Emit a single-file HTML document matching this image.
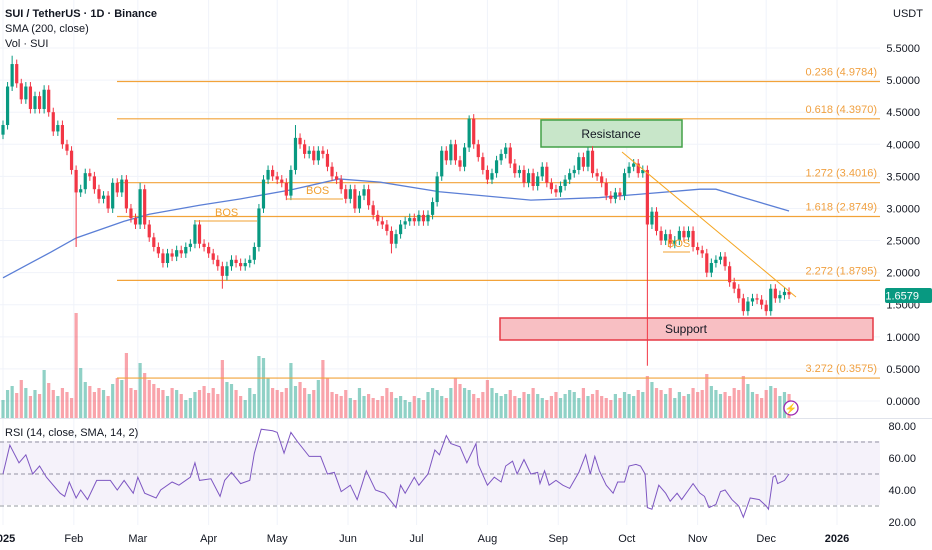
<!DOCTYPE html>
<html><head><meta charset="utf-8"><style>
body{margin:0;background:#fff;}
svg{display:block;font-family:"Liberation Sans",sans-serif;}
</style></head><body>
<svg id="c" width="932" height="550" xmlns="http://www.w3.org/2000/svg">
<rect width="932" height="550" fill="#fff"/>
<g id="grid"></g>
<rect x="0" y="441" width="880" height="64" fill="#7e57c2" fill-opacity="0.08"/>
<g id="vol"></g>
<g id="fib"></g>
<rect x="541" y="120" width="141" height="27" fill="#c8e6c9" stroke="#43a047" stroke-width="1.5"/>
<text x="611" y="138" font-size="12" text-anchor="middle" fill="#131722">Resistance</text>
<rect x="500" y="318" width="373" height="22" fill="#f8bfc3" stroke="#e53945" stroke-width="1.5"/>
<text x="686" y="333" font-size="12" text-anchor="middle" fill="#131722">Support</text>
<g id="sma"></g>
<g id="candles"></g>
<line x1="622" y1="152" x2="796" y2="297" stroke="#f5a623" stroke-width="1"/>
<g fill="#f0a030" font-size="11">
<line x1="195" y1="221" x2="257" y2="221" stroke="#f0a030"/>
<text x="215" y="216">BOS</text>
<line x1="287" y1="199" x2="343" y2="199" stroke="#f0a030"/>
<text x="306" y="194">BOS</text>
<line x1="663" y1="252" x2="690" y2="252" stroke="#f0a030"/>
<text x="667" y="247">BOS</text>
</g>
<line x1="0" y1="418.5" x2="932" y2="418.5" stroke="#e0e3eb"/>
<g id="rsi"></g>
<g id="axes"></g>
<text x="5" y="17" font-size="11" font-weight="bold" fill="#131722">SUI / TetherUS · 1D · Binance</text>
<text x="5" y="32" font-size="11" fill="#131722">SMA (200, close)</text>
<text x="5" y="47" font-size="11" fill="#131722">Vol · SUI</text>
<text x="5" y="436" font-size="11" fill="#131722">RSI (14, close, SMA, 14, 2)</text>
<text x="893" y="17" font-size="11" fill="#131722">USDT</text>
<rect x="885" y="288" width="47" height="15" rx="2" fill="#089981"/>
<text x="919" y="299.5" font-size="11" text-anchor="end" fill="#fff">1.6579</text>
<circle cx="791" cy="408" r="7" fill="#fff" stroke="#9c27b0" stroke-width="1.3"/>
<text x="791" y="412" font-size="10" text-anchor="middle" fill="#9c27b0">⚡</text>
</svg>
<script>
const closes=[4.30,4.90,5.25,4.95,4.70,4.90,4.55,4.75,4.55,4.85,4.50,4.20,4.30,4.00,3.90,3.60,3.25,3.30,3.55,3.50,3.30,3.15,3.20,3.00,3.40,3.25,3.45,3.00,2.85,2.75,3.30,2.75,2.55,2.40,2.30,2.15,2.30,2.25,2.35,2.30,2.40,2.45,2.75,2.45,2.40,2.30,2.20,2.10,1.95,2.10,2.20,2.15,2.10,2.15,2.20,2.40,3.00,3.45,3.60,3.50,3.45,3.40,3.20,3.60,4.10,4.00,3.85,3.90,3.75,3.90,3.85,3.65,3.50,3.45,3.30,3.15,3.30,3.00,3.20,3.30,3.05,2.90,2.80,2.75,2.65,2.45,2.60,2.75,2.80,2.85,2.80,2.90,2.80,2.90,3.10,3.50,3.90,3.75,4.00,3.75,3.65,3.95,4.40,4.00,3.80,3.60,3.45,3.55,3.75,3.85,3.95,3.70,3.55,3.60,3.40,3.55,3.35,3.50,3.65,3.40,3.30,3.25,3.35,3.45,3.55,3.60,3.80,3.65,3.90,3.55,3.50,3.40,3.20,3.15,3.25,3.20,3.55,3.65,3.70,3.55,3.60,2.75,2.95,2.65,2.50,2.60,2.45,2.50,2.65,2.55,2.65,2.40,2.35,2.30,2.00,2.15,2.20,2.25,2.10,1.85,1.75,1.60,1.40,1.55,1.60,1.58,1.50,1.40,1.75,1.60,1.65,1.70,1.6579];
const wickLow={16:2.40,48:1.75,85:2.30,141:0.55,162:1.33,167:1.33};
const wickHigh={2:5.38,30:3.40,64:4.30,102:4.45,128:3.95};
const volumes=[18,28,32,25,38,30,22,28,24,48,35,28,22,30,26,20,105,50,36,32,26,30,28,22,34,40,38,65,30,28,55,45,38,34,30,28,22,30,28,24,18,20,26,28,32,25,30,24,58,36,34,28,22,18,30,24,62,60,40,30,28,26,30,55,32,36,30,24,28,38,58,40,26,24,22,28,20,18,30,22,24,20,18,22,30,26,20,22,18,16,22,20,18,26,30,28,22,20,30,40,34,30,28,24,20,26,38,30,25,22,24,28,22,20,26,24,30,24,20,18,22,26,20,24,28,26,20,30,22,24,28,22,20,18,24,20,26,24,22,28,26,42,36,30,28,24,30,20,26,22,24,30,26,28,44,32,28,24,26,22,30,28,42,34,26,24,20,28,32,30,22,26,24];
const smaDays=[0,12,21,32,53,64,86,104,126,147,165,191,231,261,305,312,323,344];
const smaVals=[1.92,2.15,2.32,2.54,2.80,2.91,3.05,3.15,3.29,3.46,3.41,3.26,3.13,3.17,3.30,3.30,3.18,2.96];
const rsiDays=[0,3,7,10,13,16,19,25,27,29,32,34,37,41,47,50,53,57,59,62,67,69,74,77,82,84,86,91,95,97,100,104,108,110,113,118,120,123,126,129,134,139,142,145,148,152,155,159,163,167,172,174,176,180,182,186,189,191,194,196,200,203,207,208,212,215,218,220,223,225,228,231,234,235,237,239,242,245,248,250,252,255,257,259,261,264,267,269,272,274,277,279,281,282,284,287,290,292,295,297,300,302,305,307,309,312,314,316,319,322,324,327,331,334,335,337,338,339,342,344];
const rsiVals=[50,68,57,62,50,55,48,38,36,45,35,40,34,46,46,40,46,38,48,38,35,40,45,43,48,57,46,47,36,46,51,44,46,63,78,77,76,63,76,70,61,61,50,51,39,43,34,52,40,38,29,43,38,48,43,50,65,62,74,69,67,57,69,56,43,48,45,55,58,50,59,50,51,44,52,43,46,43,41,46,51,62,50,61,52,43,38,45,45,55,56,55,50,29,28,43,38,33,38,34,40,44,38,36,29,31,39,40,34,30,23,35,34,30,28,48,49,44,46,50];
const priceTicks=[5.5,5.0,4.5,4.0,3.5,3.0,2.5,2.0,1.5,1.0,0.5,0.0];
const rsiTicks=[80,60,40,20];
const monthLabels=["2025","Feb","Mar","Apr","May","Jun","Jul","Aug","Sep","Oct","Nov","Dec","2026"];
const monthDays=[0,31,59,90,120,151,181,212,243,273,304,334,365];
const fibLabels=["0.236 (4.9784)","0.618 (4.3970)","1.272 (3.4016)","1.618 (2.8749)","2.272 (1.8795)","3.272 (0.3575)"];
const fibPrices=[4.9784,4.3970,3.4016,2.8749,1.8795,0.3575];

const NS="http://www.w3.org/2000/svg";
const xOf=d=>3+d*2.285;
const yP=p=>401-p*64.18;
const yR=v=>426+(80-v)*1.6;
const yV=v=>418-v;
function mk(tag,attrs,parent){const e=document.createElementNS(NS,tag);for(const k in attrs)e.setAttribute(k,attrs[k]);parent.appendChild(e);return e;}
const G=id=>document.getElementById(id);

// grid
const grid=G('grid');
priceTicks.forEach(p=>{const l=mk('line',{x1:0,x2:880,y1:yP(p),y2:yP(p),stroke:'#f0f3fa'},grid);

});
monthDays.forEach(d=>{const l=mk('line',{x1:xOf(d),x2:xOf(d),y1:0,y2:525,stroke:'#f0f3fa'},grid);

});
[70,50,30].forEach(v=>{const l=mk('line',{x1:0,x2:880,y1:yR(v),y2:yR(v),stroke:'#9598a1','stroke-dasharray':'4,3'},grid);

});

// volume & candles
const vg=G('vol'),cg=G('candles');
closes.forEach((c,i)=>{
 const o=i===0?4.15:closes[i-1];
 const up=c>=o;
 const x=xOf(i*2);
 const hi=wickHigh[i]!==undefined?wickHigh[i]:Math.max(o,c)+0.07;
 const lo=wickLow[i]!==undefined?wickLow[i]:Math.min(o,c)-0.07;
 const col=up?'#089981':'#f23645';
 const w=mk('line',{x1:x,x2:x,y1:yP(hi),y2:yP(lo),stroke:col,'stroke-width':1},cg);
 
 
 const top=yP(Math.max(o,c)),bot=yP(Math.min(o,c));
 const b=mk('rect',{x:x-1.6,y:top,width:3.2,height:Math.max(1,bot-top),fill:col},cg);
 
 
 const v=volumes[i];
 const vb=mk('rect',{x:x-1.6,y:yV(v),width:3.2,height:v,fill:up?'#089981':'#f23645','fill-opacity':0.45},vg);
 
 
});

// fib
const fg=G('fib');
fibPrices.forEach((p,i)=>{
 const l=mk('line',{x1:117,x2:880,y1:yP(p),y2:yP(p),stroke:'#f2a33a','stroke-width':1.2},fg);
 
 
 const t=mk('text',{x:877,y:yP(p)-6,'font-size':11,'text-anchor':'end',fill:'#f0a040'},fg);
 t.textContent=fibLabels[i];
 
 
});

// sma
const sp=mk('polyline',{points:smaDays.map((d,i)=>xOf(d)+','+yP(smaVals[i])).join(' '),fill:'none',stroke:'#5b7fd6','stroke-width':1.3},G('sma'));



// rsi
const rp=mk('polyline',{points:rsiDays.map((d,i)=>xOf(d)+','+yR(rsiVals[i])).join(' '),fill:'none',stroke:'#7e57c2','stroke-width':1},G('rsi'));



// axes labels
const ax=G('axes');
priceTicks.forEach(p=>{const t=mk('text',{x:920,y:yP(p)+4,'font-size':11,'text-anchor':'end',fill:'#131722'},ax);
t.textContent=p.toFixed(4);

});
rsiTicks.forEach(v=>{const t=mk('text',{x:916,y:yR(v)+4,'font-size':11,'text-anchor':'end',fill:'#131722'},ax);
t.textContent=v.toFixed(2);

});
monthLabels.forEach((m,i)=>{const t=mk('text',{x:xOf(monthDays[i]),y:542,'font-size':11,'text-anchor':'middle',fill:'#131722','font-weight':(i===0||i===12)?'bold':'normal'},ax);
t.textContent=m;

});
</script>
</body></html>
